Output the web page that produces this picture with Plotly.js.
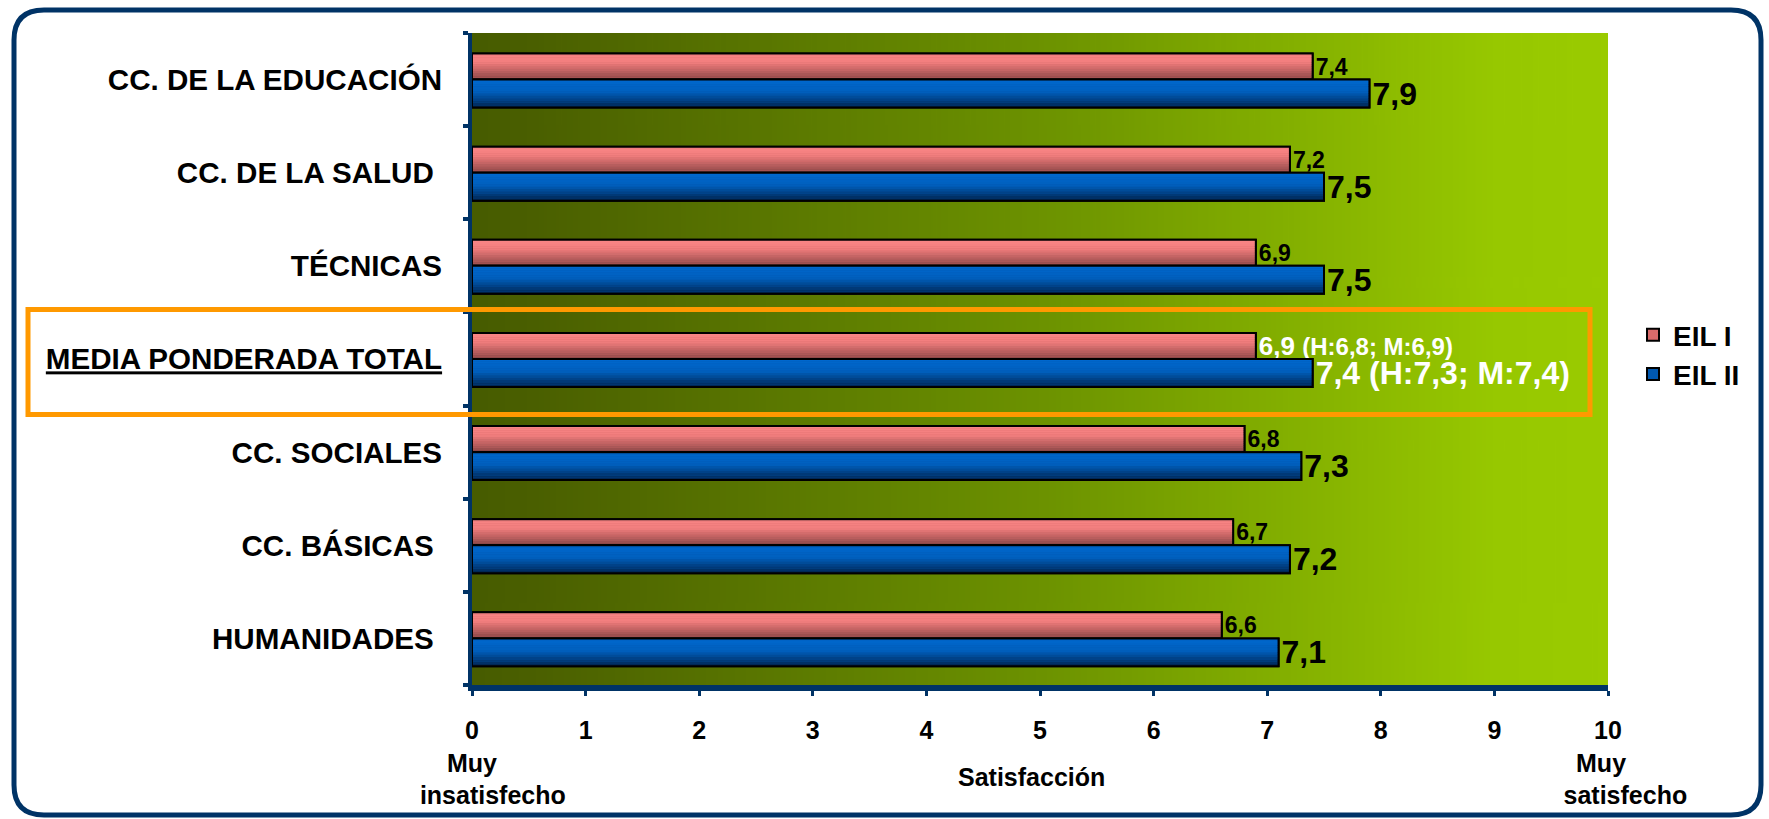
<!DOCTYPE html>
<html>
<head>
<meta charset="utf-8">
<script src="https://cdn.plot.ly/plotly-3.0.1.min.js"></script>
<style>
  html, body { margin: 0; padding: 0; background: #ffffff; }
  #chart { width: 1769px; height: 819px; }
</style>
</head>
<body>
<div id="chart"></div>
<script>
// ---------------- DATA ----------------
const categories = ['CC. DE LA EDUCACIÓN', 'CC. DE LA SALUD', 'TÉCNICAS', 'MEDIA PONDERADA TOTAL', 'CC. SOCIALES', 'CC. BÁSICAS', 'HUMANIDADES'];
const categoryLabels = ['CC. DE LA EDUCACIÓN', 'CC. DE LA SALUD ', 'TÉCNICAS', '<u>MEDIA PONDERADA TOTAL</u>', 'CC. SOCIALES', 'CC. BÁSICAS ', 'HUMANIDADES '];
const seriesNames = ['EIL I', 'EIL II'];
const eil1 = [7.4, 7.2, 6.9, 6.9, 6.8, 6.7, 6.6];
const eil2 = [7.9, 7.5, 7.5, 7.4, 7.3, 7.2, 7.1];
// Media ponderada total: hombres (H) / mujeres (M)
const mediaCategory = 'MEDIA PONDERADA TOTAL';
const eil1HM = [6.8, 6.9];
const eil2HM = [7.3, 7.4];
const xTickVals = [0, 1, 2, 3, 4, 5, 6, 7, 8, 9, 10];
const xTickText = ['0<br>Muy<br>&nbsp;&nbsp;&nbsp;&nbsp;&nbsp;&nbsp;insatisfecho', '1', '2', '3', '4', '5', '6', '7', '8', '9',
                   '10<br>Muy&nbsp;&nbsp;<br>&nbsp;&nbsp;&nbsp;&nbsp;&nbsp;satisfecho'];
const xAxisTitle = 'Satisfacción';

// ---------------- HELPERS ----------------
const FONT = 'Liberation Sans, Arial, Helvetica, sans-serif';
const fmt = v => v.toFixed(1).replace('.', ',');
function hexToRgb(h) { h = h.replace('#', ''); return [parseInt(h.substr(0,2),16), parseInt(h.substr(2,2),16), parseInt(h.substr(4,2),16)]; }
function colorAt(stops, t) {
  for (let i = 0; i < stops.length - 1; i++) {
    const [t0, c0] = stops[i], [t1, c1] = stops[i+1];
    if (t >= t0 && t <= t1) {
      const f = (t - t0) / (t1 - t0), a = hexToRgb(c0), b = hexToRgb(c1);
      return 'rgb(' + a.map((v, k) => Math.round(v + (b[k] - v) * f)).join(',') + ')';
    }
  }
  return stops[stops.length-1][1];
}

// plot-area geometry (px) for paper conversions of decorations
const W = 1769, H = 819;
const M = { l: 472, r: 161, t: 33, b: 134 };
const PW = W - M.l - M.r, PH = H - M.t - M.b;
const px = x => (x - M.l) / PW;
const py = y => (H - M.b - y) / PH;

// background gradient image for the plot area
const cv = document.createElement('canvas');
cv.width = 400; cv.height = 4;
const cx = cv.getContext('2d');
const g = cx.createLinearGradient(0, 0, 400, 0);
g.addColorStop(0, '#475c00');
g.addColorStop(0.05, '#4a5f00');
g.addColorStop(0.5, '#6c9200');
g.addColorStop(0.9, '#97c800');
g.addColorStop(1, '#9acb00');
cx.fillStyle = g; cx.fillRect(0, 0, 400, 4);
const bgSrc = cv.toDataURL();

// ---------------- TRACES ----------------
const series = [
  { name: seriesNames[0], x: eil1, hm: eil1HM, offset: -0.28, width: 0.28, base: '#d86a6a',
    stops: [[0, '#f98686'], [0.35, '#f27e7e'], [1, '#874444']], size: 23, mediaSize: 26, smallSize: 24 },
  { name: seriesNames[1], x: eil2, hm: eil2HM, offset: 0.0, width: 0.30, base: '#0058b0',
    stops: [[0, '#0068cf'], [0.45, '#005fbd'], [1, '#00224c']], size: 32, mediaSize: 32, smallSize: 32 }
];
const NSTRIPES = 12;
const traces = [];
series.forEach((s, si) => {
  // base bar (legend entry)
  traces.push({
    type: 'bar', orientation: 'h', name: s.name, y: categories, x: s.x,
    offset: s.offset, width: s.width, legendgroup: 'g' + si,
    marker: { color: s.base, line: { color: '#000', width: 2 } },
    hoverinfo: 'skip'
  });
  // gradient stripes
  for (let k = 0; k < NSTRIPES; k++) {
    const t = (k + 0.5) / NSTRIPES;
    traces.push({
      type: 'bar', orientation: 'h', y: categories, x: s.x,
      offset: s.offset + k * s.width / NSTRIPES, width: s.width / NSTRIPES,
      marker: { color: colorAt(s.stops, t), line: { width: 0 } },
      showlegend: false, hoverinfo: 'skip', legendgroup: 'g' + si
    });
  }
  // outline + value labels
  const text = s.x.map((v, i) => categories[i] === mediaCategory
    ? fmt(v) + ' <span style="font-size:' + s.smallSize + 'px">(H:' + fmt(s.hm[0]) + '; M:' + fmt(s.hm[1]) + ')</span>'
    : fmt(v));
  traces.push({
    type: 'bar', orientation: 'h', y: categories, x: s.x,
    offset: s.offset, width: s.width, legendgroup: 'g' + si,
    marker: { color: 'rgba(0,0,0,0)', line: { color: '#000', width: 2 } },
    text: text, textposition: 'outside', constraintext: 'none', cliponaxis: false,
    textfont: {
      family: FONT, weight: 'bold',
      size: s.x.map((v, i) => categories[i] === mediaCategory ? s.mediaSize : s.size),
      color: s.x.map((v, i) => categories[i] === mediaCategory ? '#ffffff' : '#000000')
    },
    showlegend: false, hoverinfo: 'skip'
  });
});

// ---------------- DECORATIONS ----------------
const rL = 14, rT = 10, rR = 1761, rB = 815, rad = 30;
const P = (x, y) => px(x) + ',' + py(y);
const framePath = 'M' + P(rL + rad, rT) + ' L' + P(rR - rad, rT) + ' Q' + P(rR, rT) + ' ' + P(rR, rT + rad) +
  ' L' + P(rR, rB - rad) + ' Q' + P(rR, rB) + ' ' + P(rR - rad, rB) +
  ' L' + P(rL + rad, rB) + ' Q' + P(rL, rB) + ' ' + P(rL, rB - rad) +
  ' L' + P(rL, rT + rad) + ' Q' + P(rL, rT) + ' ' + P(rL + rad, rT) + ' Z';

const layout = {
  width: W, height: H,
  margin: M,
  paper_bgcolor: '#ffffff', plot_bgcolor: 'rgba(0,0,0,0)',
  barmode: 'overlay',
  showlegend: true,
  font: { family: FONT, color: '#000' },
  images: [{ source: bgSrc, xref: 'paper', yref: 'paper', x: 0, y: 1, sizex: 1, sizey: 1,
             sizing: 'stretch', xanchor: 'left', yanchor: 'top', layer: 'below' }],
  xaxis: {
    range: [0, 10], tickvals: xTickVals, ticktext: xTickText,
    showgrid: false, zeroline: false,
    showline: true, linecolor: '#003366', linewidth: 6,
    ticks: 'outside', ticklen: 5, tickwidth: 3, tickcolor: '#003366',
    tickfont: { family: FONT, size: 25, color: '#000', weight: 'bold' },
    ticklabelstandoff: 13
  },
  yaxis: {
    type: 'category', categoryorder: 'array', categoryarray: categories,
    tickvals: categories, ticktext: categoryLabels,
    range: [6.5, -0.5],
    showgrid: false, zeroline: false,
    showline: true, linecolor: '#003366', linewidth: 4,
    ticks: 'outside', tickson: 'boundaries', ticklen: 5, tickwidth: 4, tickcolor: '#003366',
    tickfont: { family: FONT, size: 29.6, color: '#000', weight: 'bold' },
    ticklabelstandoff: 20
  },
  legend: {
    x: px(1633), y: py(310), xanchor: 'left', yanchor: 'top',
    font: { family: FONT, size: 28, color: '#000', weight: 'bold' },
    bgcolor: 'rgba(0,0,0,0)', traceorder: 'normal', tracegroupgap: 5
  },
  shapes: [
    { type: 'path', xref: 'paper', yref: 'paper', path: framePath,
      line: { color: '#003366', width: 5 }, layer: 'below' },
    { type: 'rect', xref: 'paper', yref: 'paper', x0: px(28), x1: px(1590), y0: py(414.5), y1: py(309.5),
      line: { color: '#ff9900', width: 5 }, fillcolor: 'rgba(0,0,0,0)', layer: 'above' }
  ],
  annotations: [
    { xref: 'paper', yref: 'paper', x: px(1031), y: py(777), text: xAxisTitle, showarrow: false,
      font: { family: FONT, size: 25, color: '#000', weight: 'bold' }, xanchor: 'center', yanchor: 'middle' }
  ]
};

Plotly.newPlot('chart', traces, layout, { displayModeBar: false, staticPlot: true });
</script>
</body>
</html>
